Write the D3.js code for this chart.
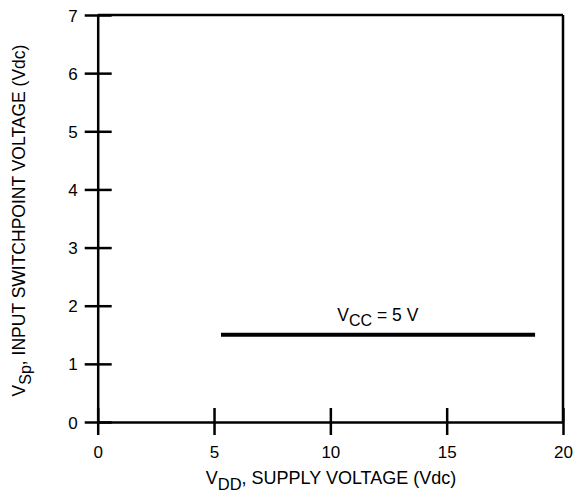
<!DOCTYPE html>
<html><head><meta charset="utf-8">
<script src="https://cdn.jsdelivr.net/npm/d3@7"></script>
<style>
body{margin:0;background:#fff;}
text{font-family:"Liberation Sans",Arial,Helvetica,sans-serif;fill:#000;}
</style></head><body>
<svg id="c" width="580" height="493"></svg>
<script>
const xTicks = [0, 5, 10, 15, 20];
const yTicks = [0, 1, 2, 3, 4, 5, 6, 7];
const seriesX = [5.3, 18.8];
const seriesY = [1.5, 1.5];
const seriesLabel = "5 V";

const svg = d3.select("#c");
const L = 97.7, R = 563, T = 15, B = 422;
const x = d3.scaleLinear().domain([0, 20]).range([L, R]);
const y = d3.scaleLinear().domain([0, 7]).range([B, T]);

// frame
svg.append("line").attr("x1", L).attr("x2", R).attr("y1", T).attr("y2", T).attr("stroke", "#000").attr("stroke-width", 2.5);
svg.append("line").attr("x1", R).attr("x2", R).attr("y1", T).attr("y2", B).attr("stroke", "#000").attr("stroke-width", 2.5);

const xAxis = d3.axisBottom(x).tickValues(xTicks).tickSize(0).tickPadding(0).tickFormat(d3.format("d"));
const gx = svg.append("g").attr("transform", `translate(0,${B})`).call(xAxis);
gx.attr("font-family", null).attr("font-size", null);
gx.select(".domain").attr("stroke", "#000").attr("stroke-width", 2.5);
gx.selectAll(".tick").append("line").attr("y1", -14).attr("y2", 13).attr("stroke", "#000").attr("stroke-width", 2.5);
gx.selectAll(".tick text").attr("y", 36).attr("dy", 0).style("font-size", "17px");

const yAxis = d3.axisLeft(y).tickValues(yTicks).tickSize(0).tickPadding(0).tickFormat(d3.format("d"));
const gy = svg.append("g").attr("transform", `translate(${L},0)`).call(yAxis);
gy.attr("font-family", null).attr("font-size", null);
gy.select(".domain").attr("stroke", "#000").attr("stroke-width", 2.5);
gy.selectAll(".tick").append("line").attr("x1", -13).attr("x2", 14).attr("stroke", "#000").attr("stroke-width", 2.5);
gy.selectAll(".tick text").attr("x", -20).attr("dy", "0.36em").style("font-size", "17px");

// series
const line = d3.line().x(d => x(d[0])).y(d => y(d[1]));
svg.append("path").datum(seriesX.map((v, i) => [v, seriesY[i]])).attr("d", line)
  .attr("fill", "none").attr("stroke", "#000").attr("stroke-width", 4);

const lab = svg.append("text").attr("x", x(10.3)).attr("y", y(1.5) - 14).style("font-size", "17.5px");
lab.append("tspan").text("V");
lab.append("tspan").attr("dy", 5).style("font-size", "16px").text("CC");
lab.append("tspan").attr("dy", -5).text(" = " + seriesLabel);

// x title
const xt = svg.append("text").attr("x", 331).attr("y", 484).attr("text-anchor", "middle").style("font-size", "18px");
xt.append("tspan").text("V");
xt.append("tspan").attr("dy", 6).style("font-size", "16.5px").text("DD");
xt.append("tspan").attr("dy", -6).text(", SUPPLY VOLTAGE (Vdc)");

// y title
const yt = svg.append("text").attr("transform", `translate(25,${(T + B) / 2 + 2}) rotate(-90)`).attr("text-anchor", "middle").style("font-size", "17.5px");
yt.append("tspan").text("V");
yt.append("tspan").attr("dy", 6).style("font-size", "16px").text("Sp");
yt.append("tspan").attr("dy", -6).text(", INPUT SWITCHPOINT VOLTAGE (Vdc)");
</script></body></html>
